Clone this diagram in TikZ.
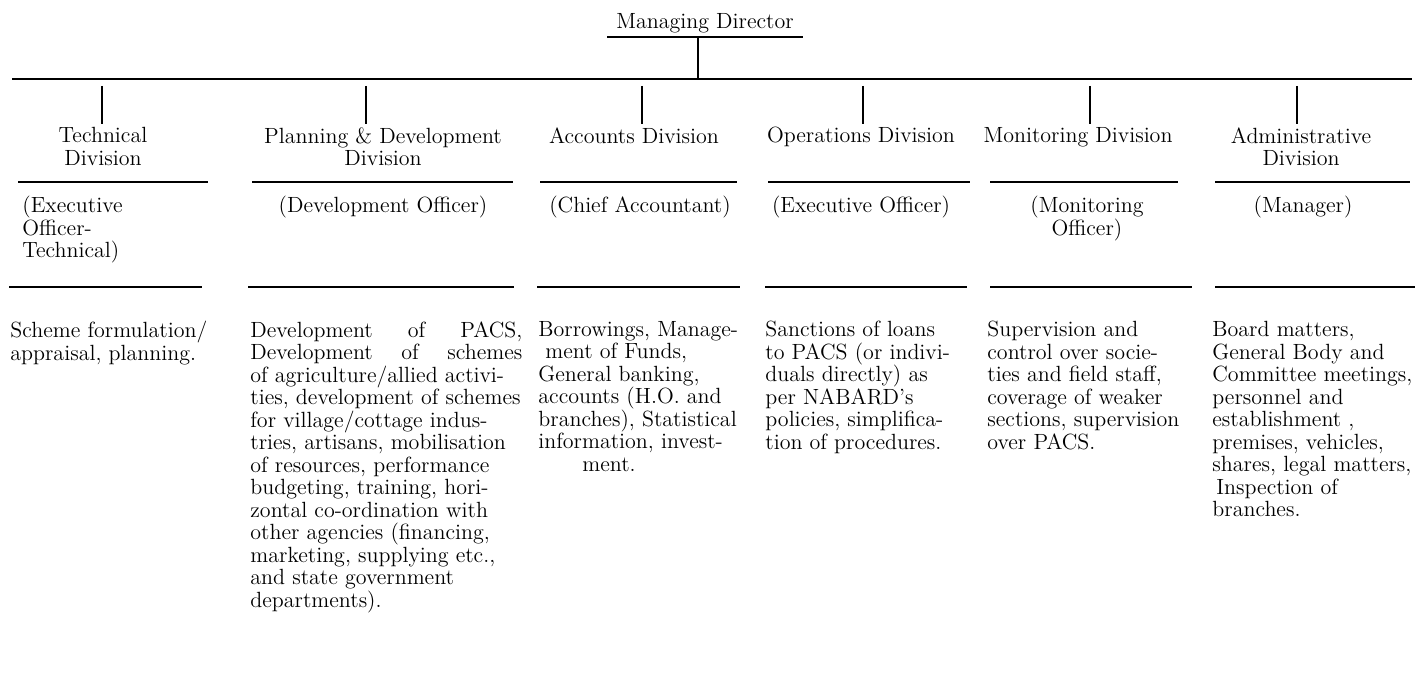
\documentclass[tikz,border=0pt]{standalone}
\usepackage{tikz}
\tikzset{
    chart-text/.style = {inner sep=0pt, font=\fontsize{11}{11.25}\selectfont},
    div-head/.style = {chart-text, align=center, anchor=north},
    officer-text/.style = {chart-text, align=center, anchor=north},
    duty-text/.style = {chart-text, align=left, anchor=north west},
    bus-line/.style = {line width=1.3pt},
    rule-line/.style = {line width=1.1pt},
    branch-line/.style = {line width=0.7pt, shorten <=3.5pt, shorten >=1.5pt},
}

\begin{document}
\begin{tikzpicture}[x=0.5pt, y=-0.5pt]
\useasboundingbox (0,0) rectangle (1422,695);

% head of the chart
\node[chart-text, anchor=north] (md) at (705,13) {Managing Director};
\draw[rule-line] (607,37) -- (803,37);
\coordinate (md-foot) at (698,37);
\coordinate (bus-west) at (12,79);
\coordinate (bus-east) at (1412,79);
\draw[bus-line] (bus-west) -- (bus-east);
\draw[line width=0.7pt] (md-foot) -- (md-foot |- bus-west);

% divisions
\node[div-head] (tech-head) at (103,127) {Technical\\Division};
\node[div-head] (plan-head) at (383,127) {Planning \& Development\\Division};
\node[div-head] (acct-head) at (634,127) {Accounts Division};
\node[div-head] (oper-head) at (861,127) {Operations Division};
\node[div-head] (mon-head) at (1078,127) {Monitoring Division};
\node[div-head] (admin-head) at (1301,127) {Administrative\\Division};

\coordinate (bus-tech) at (102,79);
\coordinate (bus-plan) at (366,79);
\coordinate (bus-acct) at (642,79);
\coordinate (bus-oper) at (863,79);
\coordinate (bus-mon) at (1090,79);
\coordinate (bus-admin) at (1297,79);
\draw[branch-line] (bus-tech) -- (bus-tech |- tech-head.north);
\draw[branch-line] (bus-plan) -- (bus-plan |- plan-head.north);
\draw[branch-line] (bus-acct) -- (bus-acct |- acct-head.north);
\draw[branch-line] (bus-oper) -- (bus-oper |- oper-head.north);
\draw[branch-line] (bus-mon) -- (bus-mon |- mon-head.north);
\draw[branch-line] (bus-admin) -- (bus-admin |- admin-head.north);

% rules under the division names
\draw[rule-line] (18,182) -- (208,182);
\draw[rule-line] (252,182) -- (513,182);
\draw[rule-line] (540,182) -- (737,182);
\draw[rule-line] (768,182) -- (970,182);
\draw[rule-line] (990,182) -- (1178,182);
\draw[rule-line] (1215,182) -- (1410,182);

% officers
\node[officer-text, align=left, anchor=north west] (tech-officer) at (22,196) {(Executive\\Officer-\\Technical)};
\node[officer-text] (plan-officer) at (383,196) {(Development Officer)};
\node[officer-text] (acct-officer) at (640,196) {(Chief Accountant)};
\node[officer-text] (oper-officer) at (861,196) {(Executive Officer)};
\node[officer-text] (mon-officer) at (1087,196) {(Monitoring\\Officer)};
\node[officer-text] (admin-officer) at (1303,196) {(Manager)};

% rules under the officers
\draw[rule-line] (9,287) -- (202,287);
\draw[rule-line] (248,287) -- (514,287);
\draw[rule-line] (537,287) -- (740,287);
\draw[rule-line] (765,287) -- (967,287);
\draw[rule-line] (990,287) -- (1192,287);
\draw[rule-line] (1215,287) -- (1415,287);

% duties
\node[duty-text] (tech-duty) at (10,321) {Scheme formulation/\\appraisal, planning.};
\node[duty-text, align=justify, text width=136pt] (plan-duty) at (250,321) {Development of PACS,\linebreak
    Development of schemes\linebreak
    of agriculture/allied activi-\\
    ties, development of schemes\\
    for village/cottage indus-\\
    tries, artisans, mobilisation\\
    of resources, performance\\
    budgeting, training, hori-\\
    zontal co-ordination with\\
    other agencies (financing,\\
    marketing, supplying etc.,\\
    and state government\\
    departments).};
\node[duty-text] (acct-duty) at (538,321) {Borrowings, Manage-\\
    \hspace*{3.5pt}ment of Funds,\\
    General banking,\\
    accounts (H.O. and\\
    branches), Statistical\\
    information, invest-\\
    \hspace*{22pt}ment.};
\node[duty-text] (oper-duty) at (765,321) {Sanctions of loans\\
    to PACS (or indivi-\\
    duals directly) as\\
    per NABARD's\\
    policies, simplifica-\\
    tion of procedures.};
\node[duty-text] (mon-duty) at (987,321) {Supervision and\\
    control over socie-\\
    ties and field staff,\\
    coverage of weaker\\
    sections, supervision\\
    over PACS.};
\node[duty-text] (admin-duty) at (1212,321) {Board matters,\\
    General Body and\\
    Committee meetings,\\
    personnel and\\
    establishment ,\\
    premises, vehicles,\\
    shares, legal matters,\\
    \hspace*{2pt}Inspection of\\
    branches.};
\end{tikzpicture}
\end{document}
